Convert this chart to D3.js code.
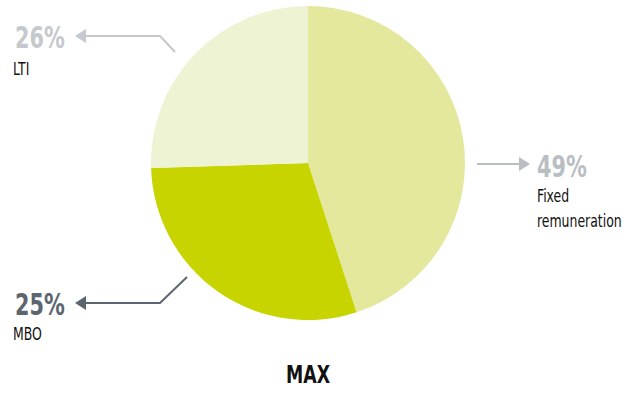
<!DOCTYPE html>
<html>
<head>
<meta charset="utf-8">
<script src="https://cdn.jsdelivr.net/npm/d3@7"></script>
<style>
  body { margin: 0; background: #fff; }
  text { font-family: "DejaVu Sans Condensed", "DejaVu Sans", sans-serif; }
</style>
</head>
<body>
<div id="chart"></div>
<script>
// data
var categories = ["Fixed remuneration", "MBO", "LTI"];
var labels = ["49%", "25%", "26%"];
// slice shares as drawn (the drawing is not exactly proportional to the labels)
var shares = [45.0, 29.5, 25.5];
var colors = ["#e3e89d", "#c8d400", "#eef3d4"];
var title = "MAX";

var w = 636,
    h = 396,
    svg = d3.select("#chart")
            .append("svg")
            .attr("width", w)
            .attr("height", h);

var cx = 308, cy = 163, r = 157;
var squeeze = 0.77; // narrow the font to look like the condensed original

var pie = d3.pie().sort(null).value(function(d) { return d; });
var arc = d3.arc().innerRadius(0).outerRadius(r);

var g = svg.append("g").attr("transform", "translate(" + cx + "," + cy + ")");

g.selectAll("path")
    .data(pie(shares))
    .enter().append("path")
    .attr("fill", function(d, i) { return colors[i]; })
    .attr("d", arc);

// annotation layout: leader line points, text positions
var annot = [
    { line: [[477, 164], [522, 164]], head: "right", tip: 530, y: 164,
      color: "#b9bec3", lx: 537, ly: 177, sub: ["Fixed", "remuneration"], sx: 537, sy: 202 },
    { line: [[187, 277], [160, 303], [84, 303]], head: "left", tip: 75, y: 303,
      color: "#5b6670", lx: 15, ly: 315, sub: ["MBO"], sx: 13, sy: 340 },
    { line: [[175, 52], [160, 36], [84, 36]], head: "left", tip: 75, y: 36,
      color: "#c5c9cd", lx: 15, ly: 48, sub: ["LTI"], sx: 13, sy: 75 }
];

var lineGen = d3.line();

function render_text(text, size, weight, color, x, y, anchor) {
    svg.append("text")
        .attr("transform", "translate(" + x + "," + y + ") scale(" + squeeze + ",1)")
        .attr("font-size", size)
        .attr("font-weight", weight)
        .attr("text-anchor", anchor || "start")
        .attr("fill", color)
        .text(text);
}

annot.forEach(function(a, i) {
    svg.append("path")
        .attr("d", lineGen(a.line))
        .attr("fill", "none")
        .attr("stroke", a.color)
        .attr("stroke-width", 2);

    var t = a.tip, back = a.head === "left" ? t + 11 : t - 11;
    svg.append("path")
        .attr("d", "M" + t + "," + a.y + "L" + back + "," + (a.y - 7) + "L" + back + "," + (a.y + 7) + "Z")
        .attr("fill", a.color);

    render_text(labels[i], "30px", "bold", a.color, a.lx, a.ly);

    a.sub.forEach(function(s, j) {
        render_text(s, "18px", "normal", "#111", a.sx, a.sy + j * 25);
    });
});

render_text(title, "25px", "bold", "#111", 308, 383, "middle");
</script>
</body>
</html>
